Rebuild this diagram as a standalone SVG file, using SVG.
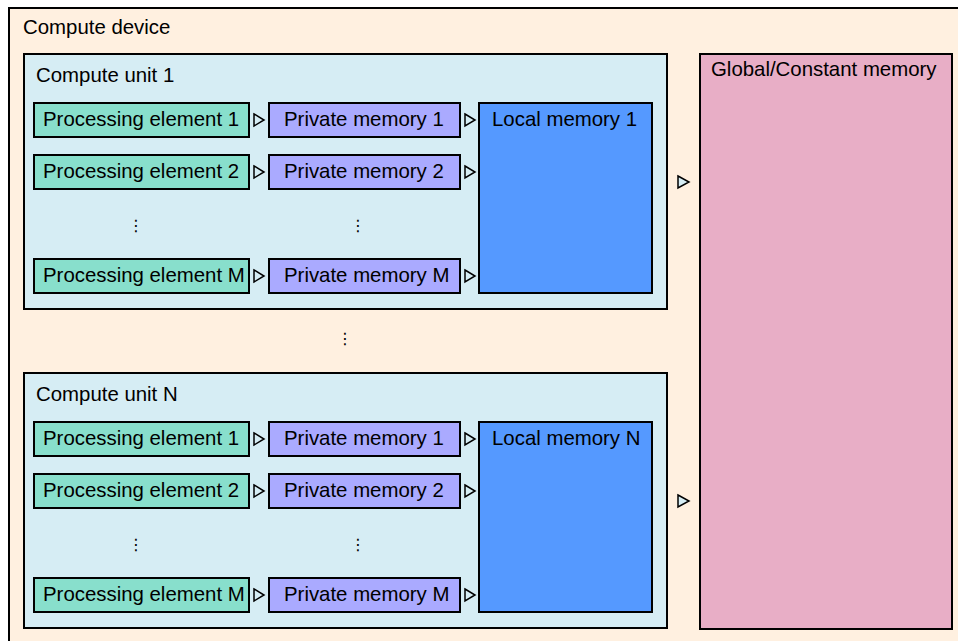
<svg xmlns="http://www.w3.org/2000/svg" width="958" height="641" viewBox="0 0 958 641">
<style>
text{font-family:"Liberation Sans",Arial,"DejaVu Sans",sans-serif;font-size:20.4px;fill:#000}
.dots{font-family:"DejaVu Sans",sans-serif;font-size:16px;text-anchor:middle}
.box{stroke:#000;stroke-width:2}
.dev{fill:#fff0e0}
.cu{fill:#d6edf4}
.pe{fill:#88dfcc}
.pm{fill:#aaaaff}
.lm{fill:#5599ff}
.gm{fill:#e8aec6}
.arr{fill:#d6edf4;stroke:#000;stroke-width:1.5;stroke-linejoin:miter}
</style>
<g id="compute-device">
<rect class="box dev" x="9" y="8" width="962" height="650"/>
<text x="23" y="34">Compute device</text>
</g>
<g id="compute-unit-1">
<rect class="box cu" x="24" y="54" width="643" height="255"/>
<text x="36" y="82">Compute unit 1</text>
</g>
<g id="pe-1-1"><rect class="box pe" x="34" y="103" width="215" height="34"/><text x="43" y="126">Processing element 1</text></g>
<g id="pe-1-2"><rect class="box pe" x="34" y="155" width="215" height="34"/><text x="43" y="178">Processing element 2</text></g>
<g id="pe-1-m"><rect class="box pe" x="34" y="259" width="215" height="34"/><text x="43" y="282">Processing element M</text></g>
<g id="pm-1-1"><rect class="box pm" x="269" y="103" width="191" height="34"/><text x="284" y="126">Private memory 1</text></g>
<g id="pm-1-2"><rect class="box pm" x="269" y="155" width="191" height="34"/><text x="284" y="178">Private memory 2</text></g>
<g id="pm-1-m"><rect class="box pm" x="269" y="259" width="191" height="34"/><text x="284" y="282">Private memory M</text></g>
<g id="lm-1"><rect class="box lm" x="479" y="103" width="173" height="190"/><text x="492" y="126">Local memory 1</text></g>
<g id="dots-1"><text class="dots" x="136" y="231">⋮</text><text class="dots" x="358" y="231">⋮</text></g>
<g id="dots-units"><text class="dots" x="345" y="344">⋮</text></g>
<g id="compute-unit-n">
<rect class="box cu" x="24" y="373" width="643" height="255"/>
<text x="36" y="401">Compute unit N</text>
</g>
<g id="pe-n-1"><rect class="box pe" x="34" y="422" width="215" height="34"/><text x="43" y="445">Processing element 1</text></g>
<g id="pe-n-2"><rect class="box pe" x="34" y="474" width="215" height="34"/><text x="43" y="497">Processing element 2</text></g>
<g id="pe-n-m"><rect class="box pe" x="34" y="578" width="215" height="34"/><text x="43" y="601">Processing element M</text></g>
<g id="pm-n-1"><rect class="box pm" x="269" y="422" width="191" height="34"/><text x="284" y="445">Private memory 1</text></g>
<g id="pm-n-2"><rect class="box pm" x="269" y="474" width="191" height="34"/><text x="284" y="497">Private memory 2</text></g>
<g id="pm-n-m"><rect class="box pm" x="269" y="578" width="191" height="34"/><text x="284" y="601">Private memory M</text></g>
<g id="lm-n"><rect class="box lm" x="479" y="422" width="173" height="190"/><text x="492" y="445">Local memory N</text></g>
<g id="dots-n"><text class="dots" x="136" y="550">⋮</text><text class="dots" x="358" y="550">⋮</text></g>
<g id="global-memory"><rect class="box gm" x="700" y="54" width="252" height="575"/><text x="711" y="76">Global/Constant memory</text></g>
<g id="connectors">
<path class="arr" d="M254,114 L264,120 L254,126 Z"/>
<path class="arr" d="M254,166 L264,172 L254,178 Z"/>
<path class="arr" d="M254,270 L264,276 L254,282 Z"/>
<path class="arr" d="M465,114 L475,120 L465,126 Z"/>
<path class="arr" d="M465,166 L475,172 L465,178 Z"/>
<path class="arr" d="M465,270 L475,276 L465,282 Z"/>
<path class="arr" d="M254,433 L264,439 L254,445 Z"/>
<path class="arr" d="M254,485 L264,491 L254,497 Z"/>
<path class="arr" d="M254,589 L264,595 L254,601 Z"/>
<path class="arr" d="M465,433 L475,439 L465,445 Z"/>
<path class="arr" d="M465,485 L475,491 L465,497 Z"/>
<path class="arr" d="M465,589 L475,595 L465,601 Z"/>
<path class="arr" d="M678,176 L689,182 L678,188 Z"/>
<path class="arr" d="M678,495 L689,501 L678,507 Z"/>
</g>
</svg>
